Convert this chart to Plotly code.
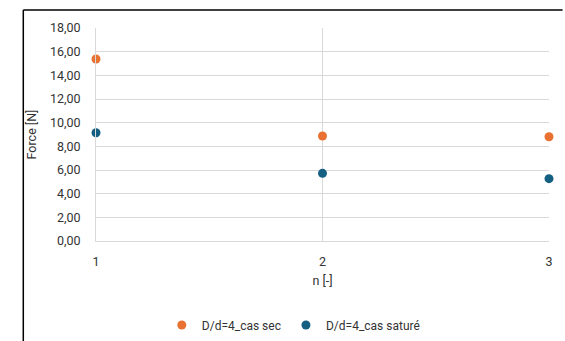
import plotly.graph_objects as go

n_values = [1, 2, 3]
force_sec = [15.38, 8.87, 8.81]
force_sature = [9.15, 5.72, 5.27]
series_names = ["D/d=4_cas sec", "D/d=4_cas saturé"]
y_ticks = [0, 2, 4, 6, 8, 10, 12, 14, 16, 18]

fig = go.Figure()
fig.add_trace(go.Scatter(x=n_values, y=force_sec, mode="markers", name=series_names[0],
                         marker=dict(color="#E97132", size=9), cliponaxis=False))
fig.add_trace(go.Scatter(x=n_values, y=force_sature, mode="markers", name=series_names[1],
                         marker=dict(color="#156082", size=9), cliponaxis=False))

fig.update_layout(
    width=565, height=341,
    margin=dict(l=96, r=13, t=28, b=100),
    paper_bgcolor="white", plot_bgcolor="white",
    separators=", ",
    font=dict(family="Roboto, Liberation Sans, sans-serif", size=12.5, color="#333333"),
    showlegend=True,
    legend=dict(orientation="h", xref="container", yref="container", x=0.52, y=0.047,
                xanchor="center", yanchor="middle", font=dict(size=12, color="#333333"),
                itemwidth=30, tracegroupgap=0),
    xaxis=dict(range=[1, 3], tickvals=n_values, showgrid=True, gridcolor="#D9D9D9",
               showline=True, linecolor="#D9D9D9", zeroline=False, ticks="",
               ticklabelstandoff=9,
               title=dict(text="n [-]", standoff=8, font=dict(size=12.5))),
    yaxis=dict(range=[0, 18], tickvals=y_ticks, tickformat=".2f", showgrid=True,
               gridcolor="#D9D9D9", zeroline=False, showline=True, linecolor="#D9D9D9",
               ticks="", ticklabelstandoff=12,
               title=dict(text="Force [N]", standoff=10, font=dict(size=12.5))),
    shapes=[
        dict(type="line", xref="paper", yref="paper", x0=-0.1605, x1=1.03, y0=1.0845, y1=1.0845,
             line=dict(color="black", width=1.5)),
        dict(type="line", xref="paper", yref="paper", x0=-0.1605, x1=-0.1605, y0=1.0845, y1=-0.5,
             line=dict(color="black", width=1.5)),
    ],
)

fig.write_html("out.html")
